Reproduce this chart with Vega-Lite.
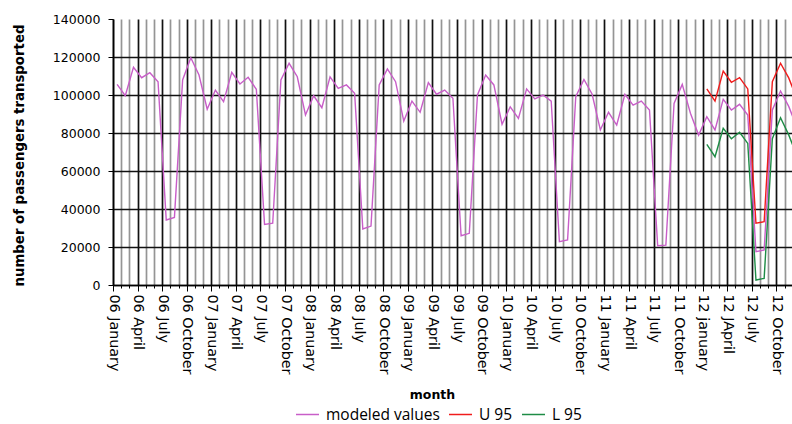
{
  "$schema": "https://vega.github.io/schema/vega-lite/v6.json",
  "width": 679,
  "height": 266,
  "autosize": {"type": "none"},
  "padding": {"left": 113, "top": 19, "right": 0, "bottom": 139},
  "background": "white",
  "config": {"view": {"stroke": null}, "font": "DejaVu Sans"},
  "datasets": {
    "m": [
      {"t":0,"v":105600},{"t":1,"v":99600},{"t":2,"v":114600},{"t":3,"v":109100},{"t":4,"v":111700},{"t":5,"v":107000},
      {"t":6,"v":34200},{"t":7,"v":35600},{"t":8,"v":107900},{"t":9,"v":119600},{"t":10,"v":110500},{"t":11,"v":92500},
      {"t":12,"v":102600},{"t":13,"v":96500},{"t":14,"v":111900},{"t":15,"v":105800},{"t":16,"v":109300},{"t":17,"v":103000},
      {"t":18,"v":31900},{"t":19,"v":32500},{"t":20,"v":107900},{"t":21,"v":116700},{"t":22,"v":109600},{"t":23,"v":89500},
      {"t":24,"v":99600},{"t":25,"v":93300},{"t":26,"v":109600},{"t":27,"v":103500},{"t":28,"v":105300},{"t":29,"v":100900},
      {"t":30,"v":29500},{"t":31,"v":31000},{"t":32,"v":105300},{"t":33,"v":113700},{"t":34,"v":107000},{"t":35,"v":86300},
      {"t":36,"v":96800},{"t":37,"v":90900},{"t":38,"v":106500},{"t":39,"v":100400},{"t":40,"v":102600},{"t":41,"v":98300},
      {"t":42,"v":25900},{"t":43,"v":27200},{"t":44,"v":100000},{"t":45,"v":110500},{"t":46,"v":105300},{"t":47,"v":84600},
      {"t":48,"v":93800},{"t":49,"v":87700},{"t":50,"v":103200},{"t":51,"v":97900},{"t":52,"v":100000},{"t":53,"v":96800},
      {"t":54,"v":22800},{"t":55,"v":23700},{"t":56,"v":99100},{"t":57,"v":108200},{"t":58,"v":100400},{"t":59,"v":81600},
      {"t":60,"v":90900},{"t":61,"v":84200},{"t":62,"v":100400},{"t":63,"v":94700},{"t":64,"v":96800},{"t":65,"v":92100},
      {"t":66,"v":20700},{"t":67,"v":21000},{"t":68,"v":95600},{"t":69,"v":105600},{"t":70,"v":90400},{"t":71,"v":78900},
      {"t":72,"v":88600},{"t":73,"v":81600},{"t":74,"v":97700},{"t":75,"v":92100},{"t":76,"v":95100},{"t":77,"v":89500},
      {"t":78,"v":17500},{"t":79,"v":18400},{"t":80,"v":92100},{"t":81,"v":102100},{"t":82,"v":94000},{"t":83,"v":83000}
    ],
    "u": [
      {"t":72,"v":103200},{"t":73,"v":96800},{"t":74,"v":112600},{"t":75,"v":106700},{"t":76,"v":109100},{"t":77,"v":103200},
      {"t":78,"v":32500},{"t":79,"v":33300},{"t":80,"v":107000},{"t":81,"v":116700},{"t":82,"v":109000},{"t":83,"v":98000}
    ],
    "l": [
      {"t":72,"v":74000},{"t":73,"v":67500},{"t":74,"v":82500},{"t":75,"v":77000},{"t":76,"v":80400},{"t":77,"v":74500},
      {"t":78,"v":2600},{"t":79,"v":3500},{"t":80,"v":77000},{"t":81,"v":88000},{"t":82,"v":79000},{"t":83,"v":68000}
    ]
  },
  "layer": [
    {
      "data": {"name": "m"},
      "mark": {"type": "line", "strokeWidth": 1.4, "clip": true},
      "encoding": {
        "x": {"field": "t", "type": "quantitative"},
        "y": {"field": "v", "type": "quantitative"},
        "color": {"datum": "modeled values"}
      }
    },
    {
      "data": {"name": "u"},
      "mark": {"type": "line", "strokeWidth": 1.4, "clip": true},
      "encoding": {
        "x": {"field": "t", "type": "quantitative"},
        "y": {"field": "v", "type": "quantitative"},
        "color": {"datum": "U 95"}
      }
    },
    {
      "data": {"name": "l"},
      "mark": {"type": "line", "strokeWidth": 1.4, "clip": true},
      "encoding": {
        "x": {"field": "t", "type": "quantitative"},
        "y": {"field": "v", "type": "quantitative"},
        "color": {"datum": "L 95"}
      }
    }
  ],
  "resolve": {"scale": {"color": "shared"}},
  "encoding": {
    "x": {
      "field": "t", "type": "quantitative",
      "scale": {"domain": [-0.5, 82.4], "nice": false, "zero": false},
      "axis": {
        "values": [-0.5,0.5,1.5,2.5,3.5,4.5,5.5,6.5,7.5,8.5,9.5,10.5,11.5,12.5,13.5,14.5,15.5,16.5,17.5,18.5,19.5,20.5,21.5,22.5,23.5,24.5,25.5,26.5,27.5,28.5,29.5,30.5,31.5,32.5,33.5,34.5,35.5,36.5,37.5,38.5,39.5,40.5,41.5,42.5,43.5,44.5,45.5,46.5,47.5,48.5,49.5,50.5,51.5,52.5,53.5,54.5,55.5,56.5,57.5,58.5,59.5,60.5,61.5,62.5,63.5,64.5,65.5,66.5,67.5,68.5,69.5,70.5,71.5,72.5,73.5,74.5,75.5,76.5,77.5,78.5,79.5,80.5,81.5],
        "labelExpr": "(datum.value + 0.5) % 3 === 0 ? ['06 January','06 April','06 July','06 October','07 January','07 April','07 July','07 October','08 January','08 April','08 July','08 October','09 January','09 April','09 July','09 October','10 January','10 April','10 July','10 October','11 January','11 April','11 July','11 October','12 january','12 JApril','12 July','12 October'][(datum.value + 0.5) / 3] : ''",
        "grid": true,
        "gridColor": {"condition": {"test": "(datum.value + 0.5) % 3 === 0", "value": "#111111"}, "value": "#959595"},
        "gridWidth": 1.7,
        "domainColor": "#000000",
        "domainWidth": 1.5,
        "tickColor": "#000000",
        "tickSize": {"condition": {"test": "(datum.value + 0.5) % 3 === 0", "value": 6}, "value": 3},
        "labelAngle": 90,
        "labelAlign": "left",
        "labelBaseline": "middle",
        "labelFont": "DejaVu Sans",
        "labelFontSize": 14.3,
        "labelColor": "#000000",
        "labelPadding": 3,
        "labelOverlap": false,
        "labelFlush": false,
        "labelBound": false,
        "title": "month",
        "titleFont": "DejaVu Sans",
        "titleFontSize": 12.5,
        "titleFontWeight": "bold",
        "titleColor": "#000000",
        "titleX": 319,
        "titleY": 109,
        "titleBaseline": "middle",
        "titleAlign": "center"
      }
    },
    "y": {
      "field": "v", "type": "quantitative",
      "scale": {"domain": [0, 140000], "nice": false},
      "axis": {
        "values": [0,20000,40000,60000,80000,100000,120000,140000],
        "format": "d",
        "grid": true,
        "gridColor": "#111111",
        "gridWidth": 1.4,
        "gridOpacity": {"condition": {"test": "datum.value === 140000", "value": 0}, "value": 1},
        "domainColor": "#000000",
        "domainWidth": 1.5,
        "tickColor": "#000000",
        "tickSize": 5,
        "labelFont": "DejaVu Sans",
        "labelFontSize": 12.5,
        "labelColor": "#000000",
        "labelPadding": 8,
        "title": "number of passengers transported",
        "titleFont": "DejaVu Sans",
        "titleFontSize": 13.3,
        "titleFontWeight": "bold",
        "titleColor": "#000000",
        "titleX": -94,
        "titleY": 136,
        "titleBaseline": "middle",
        "titleAlign": "center",
        "titleAngle": -90
      }
    },
    "color": {
      "type": "nominal",
      "scale": {"domain": ["modeled values", "U 95", "L 95"], "range": ["#c85ec8", "#f01c1c", "#1e8c46"]},
      "legend": {
        "title": null,
        "orient": "none",
        "legendX": 182,
        "legendY": 383,
        "direction": "horizontal",
        "symbolType": "stroke",
        "symbolSize": 529,
        "symbolStrokeWidth": 1.5,
        "labelFont": "Open Sans",
        "labelFontSize": 15.5,
        "labelColor": "#000000",
        "labelOffset": 6,
        "columnPadding": 6,
        "padding": 0
      }
    }
  }
}
